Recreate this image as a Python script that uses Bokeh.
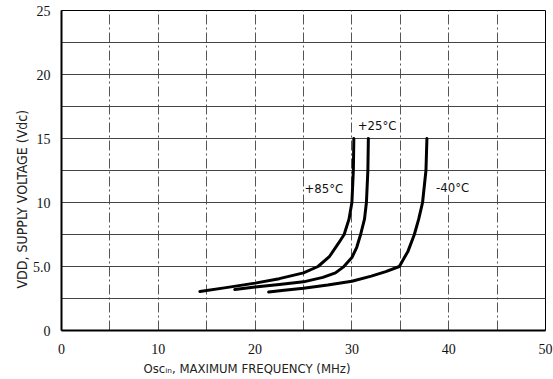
import math
from bokeh.plotting import figure
from bokeh.models import FixedTicker, Label, Range1d, Title
from bokeh.embed import file_html
from bokeh.resources import INLINE

# Data
f_85 = [14.3, 17.0, 20.0, 22.5, 25.0, 26.5, 27.7, 28.6, 29.2, 29.7, 30.0, 30.15, 30.2]
v_85 = [3.05, 3.35, 3.7, 4.05, 4.5, 5.0, 5.8, 6.8, 7.5, 8.7, 10.0, 12.5, 15.0]
f_25 = [17.9, 20.0, 22.5, 25.0, 27.0, 28.3, 29.1, 30.0, 30.5, 30.9, 31.3, 31.5, 31.65, 31.7]
v_25 = [3.2, 3.4, 3.6, 3.8, 4.15, 4.5, 4.95, 5.7, 6.5, 7.5, 8.7, 10.0, 12.5, 15.0]
f_m40 = [21.4, 23.0, 25.0, 27.5, 30.0, 32.0, 33.5, 34.9, 35.8, 36.45, 36.9, 37.3, 37.65, 37.75]
v_m40 = [3.0, 3.15, 3.3, 3.55, 3.85, 4.25, 4.6, 5.0, 6.2, 7.5, 8.7, 10.0, 12.5, 15.0]

x_ticks = [0, 10, 20, 30, 40, 50]
y_ticks = [0, 5, 10, 15, 20, 25]
y_tick_labels = {0: "0", 5: "5.0", 10: "10", 15: "15", 20: "20", 25: "25"}
x_grid = [0, 5, 10, 15, 20, 25, 30, 35, 40, 45, 50]
y_grid = [0, 2.5, 5, 7.5, 10, 12.5, 15, 17.5, 20, 22.5, 25]

curve_labels = ["+85\u00b0C", "+25\u00b0C", "-40\u00b0C"]
label_x = [25.1, 30.6, 38.7]
label_y = [11.1, 16.0, 11.2]

x_title = "Osc\u1d62\u2099, MAXIMUM FREQUENCY (MHz)"
y_title = "VDD, SUPPLY VOLTAGE (Vdc)"

FONT_A = "Liberation Sans Narrow"
FONT_B = "DejaVu Sans Condensed"

p = figure(frame_width=484, frame_height=320, output_backend="svg", toolbar_location=None,
           x_range=Range1d(0, 50), y_range=Range1d(0, 25),
           min_border_left=61, min_border_right=8, min_border_top=10, min_border_bottom=49)
p.background_fill_color = "white"
p.border_fill_color = "white"
p.outline_line_color = "black"
p.outline_line_width = 1

p.xaxis.ticker = FixedTicker(ticks=x_ticks)
p.yaxis.ticker = FixedTicker(ticks=y_ticks)
p.yaxis.major_label_overrides = y_tick_labels
for ax in (p.xaxis, p.yaxis):
    ax.major_tick_line_color = None
    ax.minor_tick_line_color = None
    ax.axis_line_color = "black"
    ax.axis_line_width = 2
    ax.major_label_text_font = FONT_A
    ax.major_label_text_font_size = "14px"
    ax.major_label_text_color = "#111111"
p.yaxis.major_label_standoff = 5
p.xaxis.major_label_standoff = 7

p.add_layout(Title(text=x_title, align="left", offset=82, standoff=4,
                   text_font=FONT_B, text_font_size="13px", text_font_style="normal",
                   text_color="#222222"), "below")
p.add_layout(Title(text=y_title, align="left", offset=42, standoff=0,
                   text_font=FONT_B, text_font_size="14px", text_font_style="normal",
                   text_color="#222222"), "left")

p.xgrid.ticker = FixedTicker(ticks=x_grid)
p.ygrid.ticker = FixedTicker(ticks=y_grid)
p.xgrid.grid_line_color = "#555555"
p.xgrid.grid_line_width = 1
p.xgrid.grid_line_dash = "10 3 2 3"
p.ygrid.grid_line_color = "#444444"
p.ygrid.grid_line_width = 1.2

for xs, ys in ((f_85, v_85), (f_25, v_25), (f_m40, v_m40)):
    p.line(xs, ys, line_color="black", line_width=3, line_join="round", line_cap="round")

for t, lx, ly in zip(curve_labels, label_x, label_y):
    p.add_layout(Label(x=lx, y=ly, text=t, text_font=FONT_B, text_font_size="13px",
                       text_color="#111111", text_baseline="middle", text_align="left",
                       background_fill_color="white", background_fill_alpha=1.0))

open("out.html", "w").write(file_html(p, INLINE))
